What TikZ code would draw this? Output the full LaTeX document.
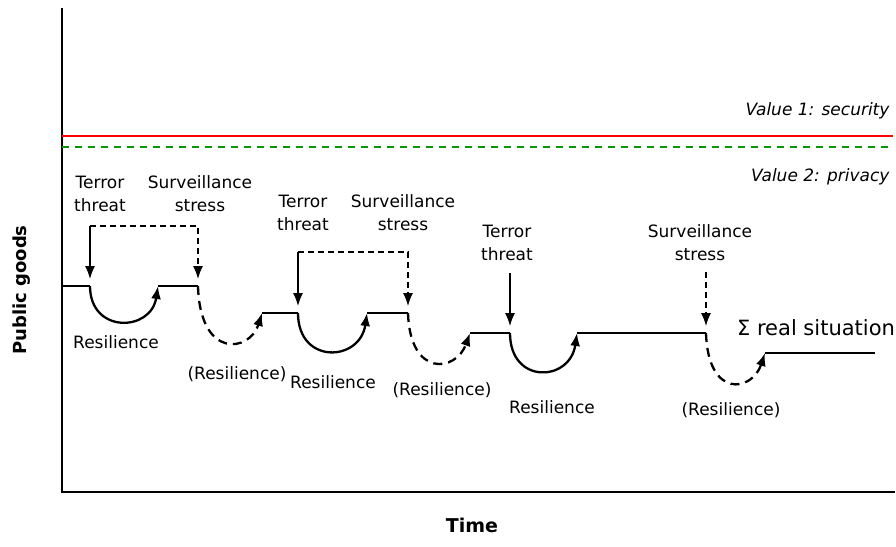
\documentclass[tikz,border=0pt]{standalone}
\usepackage{fontspec}
\setmainfont{DejaVu Sans}
\usepackage{tikz}
\usetikzlibrary{positioning, arrows.meta}

\begin{document}
\begin{tikzpicture}[x=1pt, y=-1pt,
    tip/.style={-{Latex[length=13pt,width=10pt]}},
    lbl/.style={align=center, font=\fontsize{17}{23}\selectfont},
    ttl/.style={font=\fontsize{18}{22}\selectfont\bfseries},
    level/.style={line width=2.3pt},
    cause/.style={line width=1.3pt, shorten >=7pt},
    weak/.style={dash pattern=on 9pt off 6pt}]
    \useasboundingbox (0,0) rectangle (896,546);

    % axes and the two values
    \coordinate (ytop) at (62,8);
    \coordinate (orig) at (62,492);
    \coordinate (xend) at (895,492);
    \draw[line width=1.4pt] (ytop) -- (orig) -- (xend);
    \draw[red, line width=1.8pt] (62,136) -- (893,136);
    \draw[green!60!black, line width=1.8pt, dash pattern=on 7pt off 6pt] (62,147) -- (893,147);

    \node[lbl, font=\fontsize{17}{21}\selectfont\itshape, anchor=east] (V1) at (893,111) {Value 1: security};
    \node[lbl, font=\fontsize{17}{21}\selectfont\itshape, anchor=east] (V2) at (893,177) {Value 2: privacy};
    \node[ttl, rotate=90] (PG) at (22,290) {Public goods};
    \node[ttl, font=\fontsize{19}{22}\selectfont\bfseries] (TM) at (472,525) {Time};

    % levels of the real situation
    \coordinate (a0) at (62,286);   \coordinate (a1) at (90,286);
    \coordinate (a2) at (158,286);  \coordinate (a3) at (198,286);
    \coordinate (b0) at (262,313);  \coordinate (b1) at (298,313);
    \coordinate (b2) at (367,313);  \coordinate (b3) at (408,313);
    \coordinate (c0) at (470,333);  \coordinate (c1) at (510,333);
    \coordinate (c2) at (577,333);  \coordinate (c3) at (706,333);
    \coordinate (d0) at (765,353);  \coordinate (d1) at (875,353);

    \draw[level] (a0) -- (a1) (a2) -- (a3)
                 (b0) -- (b1) (b2) -- (b3)
                 (c0) -- (c1) (c2) -- (c3)
                 (d0) -- (d1);

    \draw[level, tip] (a1) .. controls (90,334) and (151,332) .. (a2);
    \draw[level, tip] (b1) .. controls (298,365) and (360,362) .. (b2);
    \draw[level, tip] (c1) .. controls (510,385) and (570,382) .. (c2);

    \draw[level, weak, tip] (a3) .. controls (200,360) and (250,352) .. (b0);
    \draw[level, weak, tip] (b3) .. controls (410,378) and (456,372) .. (c0);
    \draw[level, weak, tip] (c3) .. controls (708,399) and (752,392) .. (d0);

    % threats and stresses
    \coordinate (ta) at (90,226);
    \coordinate (tb) at (298,252);
    \coordinate (tc) at (510,273);
    \coordinate (sc) at (706,272);

    \draw[cause, tip] (ta) -- (a1);
    \draw[cause, tip, dash pattern=on 6pt off 4pt] (ta) -| (a3);
    \draw[cause, tip] (tb) -- (b1);
    \draw[cause, tip, dash pattern=on 6pt off 4pt] (tb) -| (b3);
    \draw[cause, tip] (tc) -- (c1);
    \draw[cause, tip, dash pattern=on 6pt off 4pt] (sc) -- (c3);

    \node[lbl] (TT1) at (100,194) {Terror\\threat};
    \node[lbl] (SS1) at (200,194) {Surveillance\\stress};
    \node[lbl] (TT2) at (303,213) {Terror\\threat};
    \node[lbl] (SS2) at (403,213) {Surveillance\\stress};
    \node[lbl] (TT3) at (507,243) {Terror\\threat};
    \node[lbl] (SS3) at (700,243) {Surveillance\\stress};

    \node[lbl] (R1) at (116,342) {Resilience};
    \node[lbl] (W1) at (237,374) {(Resilience)};
    \node[lbl] (R2) at (333,382) {Resilience};
    \node[lbl] (W2) at (442,390) {(Resilience)};
    \node[lbl] (R3) at (552,407) {Resilience};
    \node[lbl] (W3) at (731,410) {(Resilience)};

    \node[font=\fontsize{21}{25}\selectfont] (RS) at (816,328) {Σ real situation};
\end{tikzpicture}
\end{document}
